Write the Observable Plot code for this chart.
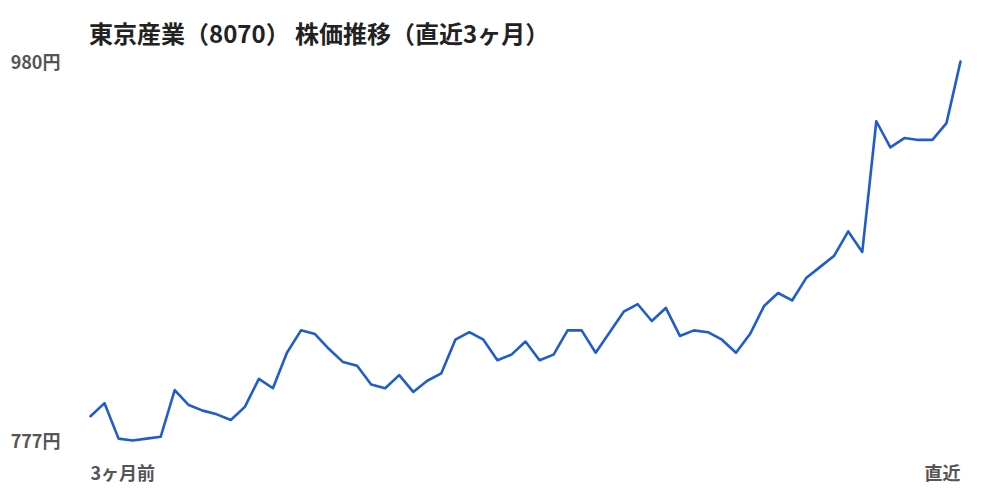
<!DOCTYPE html>
<html>
<head>
<meta charset="utf-8">
<script src="https://cdn.jsdelivr.net/npm/d3@7"></script>
<script src="https://cdn.jsdelivr.net/npm/@observablehq/plot@0.6"></script>
<style>
  html, body { margin: 0; padding: 0; background: #fff; }
  #title { height: 40px; box-sizing: border-box; padding: 21px 0 0 89px; font-family: "Noto Sans CJK JP", sans-serif; font-weight: bold; font-size: 24px; line-height: 24px; color: #222; white-space: nowrap; overflow: visible; }
</style>
</head>
<body>
<div id="title">東京産業（8070） 株価推移（直近3ヶ月）</div>
<div id="chart"></div>
<script>
const titleText = "東京産業（8070） 株価推移（直近3ヶ月）";
const prices = [790, 797, 778, 777, 778, 779, 804, 796, 793, 791,
  788, 795, 810, 805, 824, 836, 834, 826, 819, 817,
  807, 805, 812, 803, 809, 813, 831, 835, 831, 820,
  823, 830, 820, 823, 836, 836, 824, 835, 846, 850,
  841, 848, 833, 836, 835, 831, 824, 834, 849, 856,
  852, 864, 870, 876, 889, 878, 948, 934, 939, 938,
  938, 947, 980];
const yTicks = [777, 980];
const yUnit = "円";
const xStartLabel = "3ヶ月前";
const xEndLabel = "直近";

document.getElementById("title").textContent = titleText;
const data = prices.map((p, i) => ({i, p}));
const lastIndex = prices.length - 1;

const chart = Plot.plot({
  width: 1000,
  height: 460,
  marginTop: 21,
  marginBottom: 60,
  marginLeft: 90,
  marginRight: 40,
  style: {fontFamily: "Noto Sans CJK JP, sans-serif", fontSize: "18px", fontWeight: "bold", color: "#555", background: "#fff", overflow: "visible"},
  x: {domain: [0, lastIndex], axis: null},
  y: {domain: [d3.min(prices), d3.max(prices)]},
  marks: [
    Plot.axisY({ticks: yTicks, tickFormat: d => d + yUnit, tickSize: 0, tickPadding: 30, dy: 2, label: null, fill: "#555"}),
    Plot.line(data, {x: "i", y: "p", stroke: "#1f5ccc", strokeWidth: 2.6}),
    Plot.text([0], {x: d => d, frameAnchor: "bottom", dy: 39, text: () => xStartLabel, textAnchor: "start", fill: "#555"}),
    Plot.text([lastIndex], {x: d => d, frameAnchor: "bottom", dy: 39, text: () => xEndLabel, textAnchor: "end", fill: "#555"})
  ]
});
document.getElementById("chart").appendChild(chart);
</script>
</body>
</html>
